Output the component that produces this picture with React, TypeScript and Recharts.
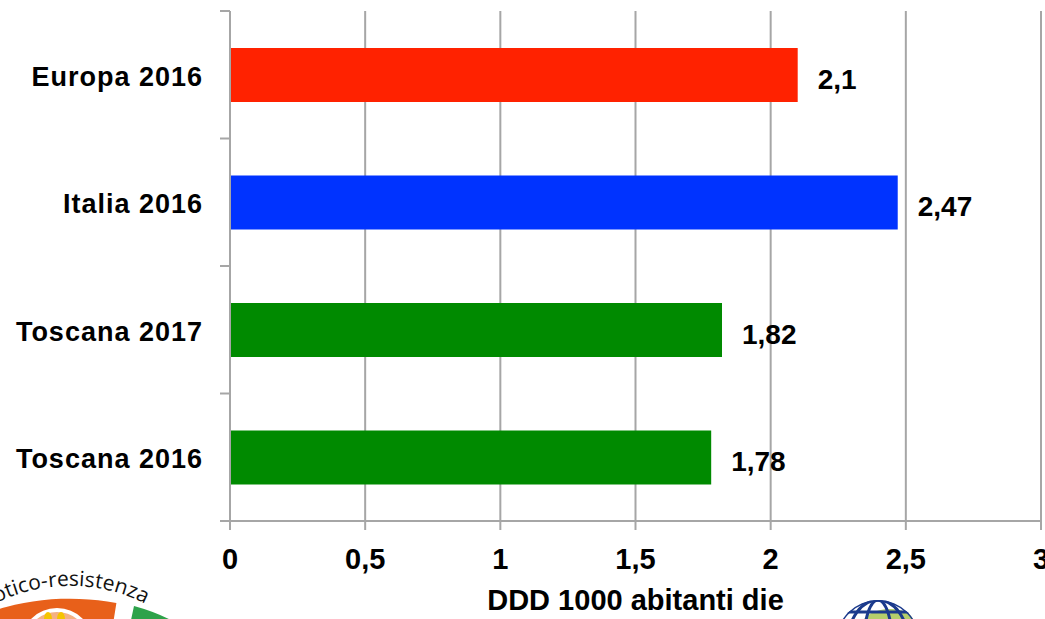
import React from 'react';
import { BarChart, Bar, XAxis, YAxis, CartesianGrid, LabelList, Cell, Label } from 'recharts';

const categories = ['Europa 2016', 'Italia 2016', 'Toscana 2017', 'Toscana 2016'];
const values = [2.1, 2.47, 1.82, 1.78];
const barColors = ['#ff2200', '#0033ff', '#008a00', '#008a00'];
const xTicks = [0, 0.5, 1, 1.5, 2, 2.5, 3];
const xAxisTitle = 'DDD 1000 abitanti die';

const data = categories.map((name, i) => ({ name, value: values[i] }));

const GRID = '#a6a6a6';
const FONT = '"Liberation Sans", Arial, Helvetica, sans-serif';
const Y_TICK_SIZE = 10;
const Y_TICK_MARGIN = 17;

const comma = (v: any) => String(v).replace('.', ',');

const CategoryTick = (props: any) => {
  const { x, y, payload, index, visibleTicksCount } = props;
  const half = payload && typeof payload.offset === 'number' ? payload.offset : 0;
  const x1 = x + Y_TICK_MARGIN;
  const x2 = x1 + Y_TICK_SIZE;
  return (
    <g>
      <line x1={x1} x2={x2} y1={y - half} y2={y - half} stroke={GRID} strokeWidth={2} />
      {index === visibleTicksCount - 1 && (
        <line x1={x1} x2={x2} y1={y + half} y2={y + half} stroke={GRID} strokeWidth={2} />
      )}
      <text
        x={x}
        y={y}
        dy={11}
        textAnchor="end"
        fontFamily={FONT}
        fontWeight="bold"
        fontSize={27}
        letterSpacing={1}
        fill="#000"
      >
        {payload.value}
      </text>
    </g>
  );
};

const Logos = () => (
  <svg
    width={1045}
    height={619}
    style={{ position: 'absolute', left: 0, top: 0, pointerEvents: 'none' }}
  >
    <defs>
      <path id="logoArc" d="M -70 700 A 135 110 0 0 1 210 700" />
      <clipPath id="globeClip">
        <circle cx={878} cy={642} r={42} />
      </clipPath>
    </defs>
    <g transform="translate(70,0) scale(1.6,1) translate(-70,0)">
      <path d="M -30 700 A 100 100 0 0 1 99 603 L 96 633 A 70 70 0 0 0 0 700 Z" fill="#e8601a" />
      <path d="M 110 606 A 100 100 0 0 1 170 700 L 140 700 A 70 70 0 0 0 106 636 Z" fill="#2ea24a" />
    </g>
    <text fontFamily='"Open Sans", sans-serif' fontSize={21} fill="#111">
      <textPath href="#logoArc" startOffset={68}>antibiotico-resistenza</textPath>
    </text>
    <circle cx={57} cy={644} r={34} fill="#f4b183" stroke="#fff" strokeWidth={4} />
    <ellipse cx={48} cy={619} rx={4} ry={7} fill="#f5c400" />
    <ellipse cx={61} cy={619} rx={4} ry={7} fill="#f5c400" />
    <g clipPath="url(#globeClip)">
      <circle cx={878} cy={642} r={42} fill="#fff" />
      <ellipse cx={890} cy={625} rx={28} ry={16} fill="#b5cf6b" />
      <ellipse cx={878} cy={642} rx={42} ry={42} fill="none" stroke="#1b3a8c" strokeWidth={3} />
      <ellipse cx={878} cy={642} rx={14} ry={42} fill="none" stroke="#1b3a8c" strokeWidth={3} />
      <ellipse cx={878} cy={642} rx={30} ry={42} fill="none" stroke="#1b3a8c" strokeWidth={3} />
      <line x1={830} x2={926} y1={612} y2={612} stroke="#1b3a8c" strokeWidth={3} />
    </g>
  </svg>
);

export default function App() {
  return (
    <div style={{ position: 'absolute', left: 0, top: 0, width: 1045, height: 619, background: '#fff' }}>
      <BarChart
        width={1045}
        height={619}
        data={data}
        layout="vertical"
        margin={{ top: 11, right: 4, left: 0, bottom: 0 }}
        barCategoryGap="29%"
      >
        <CartesianGrid horizontal={false} vertical stroke={GRID} strokeWidth={2} />
        <XAxis
          type="number"
          domain={[0, 3]}
          ticks={xTicks}
          interval={0}
          height={98}
          tickFormatter={comma}
          axisLine={{ stroke: GRID, strokeWidth: 2 }}
          tickLine={{ stroke: GRID, strokeWidth: 2 }}
          tickSize={9}
          tickMargin={18}
          tick={{ fontFamily: FONT, fontWeight: 'bold', fontSize: 29, fill: '#000' }}
        >
          <Label
            value={xAxisTitle}
            position="insideBottom"
            offset={9}
            style={{ fontFamily: FONT, fontWeight: 'bold', fontSize: 29, fill: '#000' }}
          />
        </XAxis>
        <YAxis
          type="category"
          dataKey="name"
          width={230}
          axisLine={{ stroke: GRID, strokeWidth: 2 }}
          tickLine={false}
          tickSize={Y_TICK_SIZE}
          tickMargin={Y_TICK_MARGIN}
          tick={<CategoryTick />}
          interval={0}
        />
        <Bar dataKey="value" isAnimationActive={false}>
          {data.map((d, i) => (
            <Cell key={d.name} fill={barColors[i]} />
          ))}
          <LabelList
            dataKey="value"
            position="right"
            offset={20}
            formatter={comma}
            style={{ fontFamily: FONT, fontWeight: 'bold', fontSize: 28, fill: '#000' }}
            dy={4}
          />
        </Bar>
      </BarChart>
      <Logos />
    </div>
  );
}
